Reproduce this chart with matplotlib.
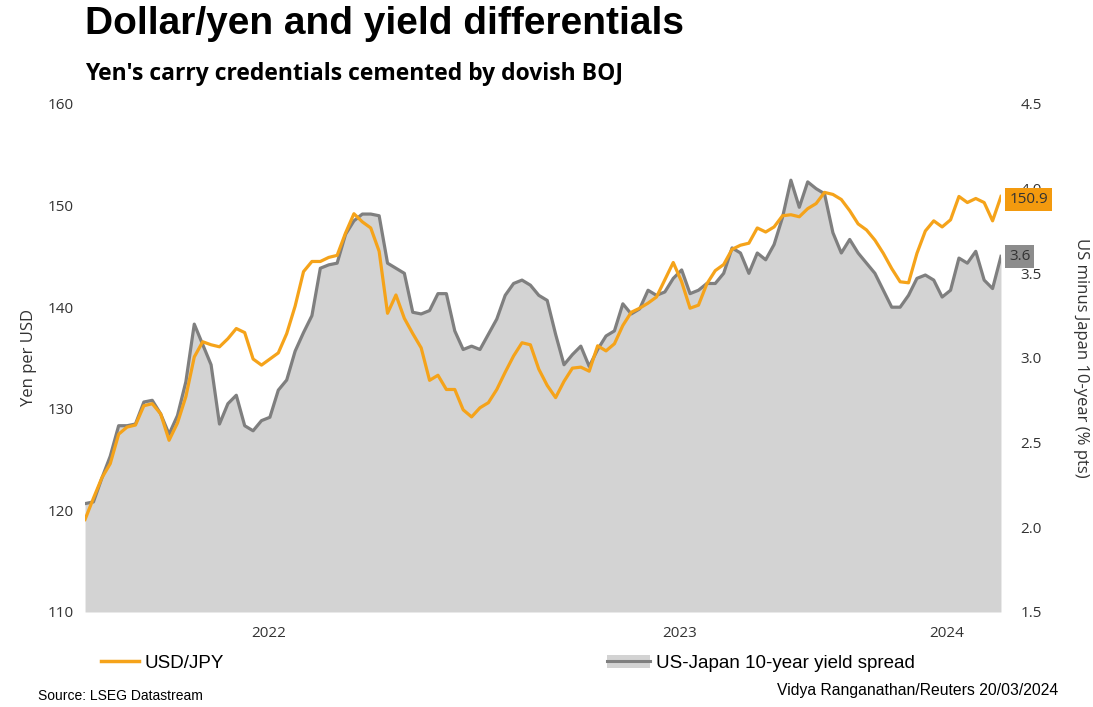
import matplotlib.pyplot as plt
import pandas as pd
from matplotlib.lines import Line2D
from matplotlib.patches import Patch

# weekly observations, last one on 20 March 2024
end_date = "2024-03-20"

usd_jpy = [
    119.1, 121.2, 123.2, 124.6, 127.5, 128.2, 128.4, 130.3, 130.5, 129.5,
    126.9, 128.6, 131.2, 135.1, 136.6, 136.3, 136.1, 136.9, 137.9, 137.5,
    134.9, 134.3, 134.9, 135.5, 137.4, 140.1, 143.5, 144.5, 144.5, 144.9,
    145.1, 147.3, 149.2, 148.4, 147.8, 145.5, 139.4, 141.2, 138.9, 137.4,
    136.0, 132.8, 133.3, 131.9, 131.9, 129.9, 129.2, 130.1, 130.6, 131.9,
    133.6, 135.2, 136.5, 136.3, 133.9, 132.3, 131.1, 132.7, 134.0, 134.1,
    133.7, 136.2, 135.7, 136.4, 138.2, 139.5, 139.9, 140.4, 141.0, 142.7,
    144.4, 142.5, 139.9, 140.2, 142.3, 143.6, 144.2, 145.7, 146.1, 146.3,
    147.8, 147.4, 147.9, 149.0, 149.1, 148.9, 149.7, 150.2, 151.3, 151.1,
    150.6, 149.5, 148.2, 147.6, 146.6, 145.3, 143.8, 142.5, 142.4, 145.3,
    147.5, 148.5, 147.9, 148.6, 150.9, 150.3, 150.7, 150.3, 148.5, 150.9,
]

yield_spread = [
    2.14, 2.15, 2.29, 2.42, 2.60, 2.60, 2.61, 2.74, 2.75, 2.67,
    2.55, 2.66, 2.86, 3.20, 3.08, 2.96, 2.61, 2.73, 2.78, 2.60,
    2.57, 2.63, 2.65, 2.81, 2.87, 3.04, 3.15, 3.25, 3.53, 3.55,
    3.56, 3.73, 3.81, 3.85, 3.85, 3.84, 3.56, 3.53, 3.50, 3.27,
    3.26, 3.28, 3.38, 3.38, 3.16, 3.05, 3.07, 3.05, 3.14, 3.23,
    3.37, 3.44, 3.46, 3.43, 3.37, 3.34, 3.14, 2.96, 3.02, 3.07,
    2.95, 3.05, 3.13, 3.16, 3.32, 3.26, 3.29, 3.40, 3.37, 3.39,
    3.47, 3.52, 3.38, 3.40, 3.44, 3.44, 3.50, 3.65, 3.62, 3.50,
    3.62, 3.58, 3.67, 3.83, 4.05, 3.89, 4.04, 4.00, 3.97, 3.74,
    3.62, 3.70, 3.62, 3.56, 3.50, 3.40, 3.30, 3.30, 3.37, 3.47,
    3.49, 3.46, 3.36, 3.40, 3.59, 3.56, 3.63, 3.46, 3.41, 3.60,
]

yen_ticks = [110, 120, 130, 140, 150, 160]
spread_ticks = [1.5, 2.0, 2.5, 3.0, 3.5, 4.0, 4.5]
years = [2022, 2023, 2024]

ORANGE = "#F5A31A"
ORANGE_BOX = "#F39A0E"
GREY_LINE = "#7F7F7F"
GREY_FILL = "#D3D3D3"
GREY_BOX = "#8C8C8C"
TEXT = "#333333"
ARIAL = ["Liberation Sans", "DejaVu Sans"]

plt.rcParams["font.family"] = ["Open Sans", "DejaVu Sans"]

dates = pd.date_range(end=end_date, periods=len(usd_jpy), freq="7D")
df = pd.DataFrame({"usd_jpy": usd_jpy, "spread": yield_spread}, index=dates)

fig = plt.figure(figsize=(10.93, 7.07), dpi=100)
ax = fig.add_axes([0.0778, 0.1344, 0.838, 0.7185])
ax2 = ax.twinx()

# spread: shaded area on the right-hand axis
ax2.fill_between(df.index, spread_ticks[0], df["spread"], color=GREY_FILL, lw=0)
ax2.plot(df.index, df["spread"], color=GREY_LINE, lw=2.3)
ax2.set_ylim(spread_ticks[0], spread_ticks[-1])
ax2.set_yticks(spread_ticks)
ax2.set_yticklabels(["{:.1f}".format(t) for t in spread_ticks])

# dollar/yen on the left axis, drawn on top of the spread
ax.set_zorder(ax2.get_zorder() + 1)
ax.patch.set_visible(False)
ax.plot(df.index, df["usd_jpy"], color=ORANGE, lw=2.3)
ax.set_ylim(yen_ticks[0], yen_ticks[-1])
ax.set_yticks(yen_ticks)
ax.set_xlim(df.index[0], df.index[-1])

# year labels sit in the middle of each year's visible stretch
centres = []
for y in years:
    lo = max(df.index[0], pd.Timestamp(y, 1, 1))
    hi = min(df.index[-1], pd.Timestamp(y, 12, 31))
    centres.append(lo + (hi - lo) / 2 - pd.Timedelta(days=6))
ax.set_xticks(centres)
ax.set_xticklabels([str(y) for y in years])

for a in (ax, ax2):
    for s in a.spines.values():
        s.set_visible(False)
    a.tick_params(length=0, labelsize=11, labelcolor=TEXT)
ax.tick_params(axis="y", pad=8)
ax2.tick_params(axis="y", pad=14)
ax.tick_params(axis="x", pad=10)

ax.set_ylabel("Yen per USD", fontsize=12, color=TEXT, labelpad=8)
ax2.set_ylabel("US minus Japan 10-year (% pts)", fontsize=12, color=TEXT,
               rotation=270, labelpad=34)

# end-of-series value tags
ax.annotate("{:.1f}".format(usd_jpy[-1]), xy=(1, usd_jpy[-1]),
            xycoords=("axes fraction", "data"), xytext=(6, -2),
            textcoords="offset points", va="center", ha="left",
            fontsize=11, color=TEXT,
            bbox=dict(boxstyle="square,pad=0.25", fc=ORANGE_BOX, ec="none"))
ax2.annotate("{:.1f}".format(yield_spread[-1]), xy=(1, yield_spread[-1]),
             xycoords=("axes fraction", "data"), xytext=(6, 0),
             textcoords="offset points", va="center", ha="left",
             fontsize=11, color=TEXT,
             bbox=dict(boxstyle="square,pad=0.25", fc=GREY_BOX, ec="none"))

fig.text(0.078, 0.966, "Dollar/yen and yield differentials", fontsize=28,
         fontweight="bold", family=ARIAL, va="center", ha="left")
fig.text(0.078, 0.895, "Yen's carry credentials cemented by dovish BOJ",
         fontsize=16.5, fontweight="bold", va="center", ha="left")

leg_font = dict(family=ARIAL, size=13.5)
fig.legend(handles=[Line2D([], [], color=ORANGE, lw=2.5)], labels=["USD/JPY"],
           loc="center left", bbox_to_anchor=(0.077, 0.062), frameon=False,
           prop=leg_font, handlelength=2.0, handletextpad=0.3)
fig.legend(handles=[(Patch(fc=GREY_FILL, ec="none"),
                     Line2D([], [], color=GREY_LINE, lw=2.2))],
           labels=["US-Japan 10-year yield spread"],
           loc="center left", bbox_to_anchor=(0.54, 0.062), frameon=False,
           prop=leg_font, handlelength=2.3, handletextpad=0.3)

fig.text(0.035, 0.016, "Source: LSEG Datastream", fontsize=10,
         family=ARIAL, va="center", ha="left")
fig.text(0.968, 0.024, "Vidya Ranganathan/Reuters 20/03/2024", fontsize=11.3,
         family=ARIAL, va="center", ha="right")

fig.savefig("out.png", dpi=100)
